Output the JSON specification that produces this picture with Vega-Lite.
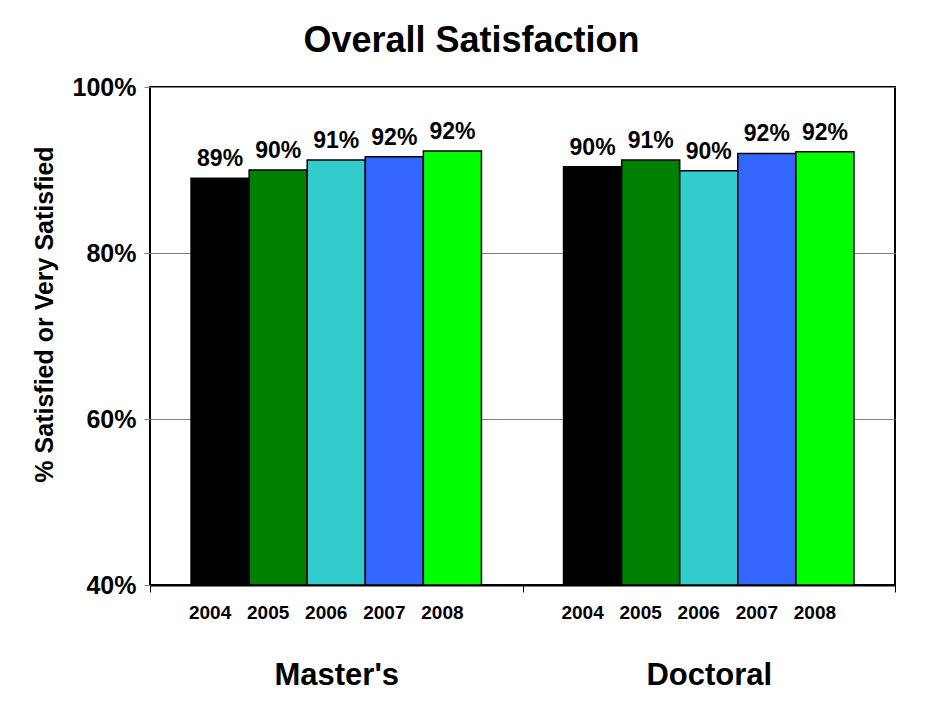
{
  "$schema": "https://vega.github.io/schema/vega-lite/v6.json",
  "autosize": {"type": "none"},
  "padding": {"left": 150, "top": 87, "right": 44, "bottom": 118},
  "width": 745,
  "height": 498,
  "background": "white",
  "config": {
    "font": "Liberation Sans",
    "view": {"stroke": "#000000", "strokeWidth": 2}
  },
  "title": {
    "text": "Overall Satisfaction",
    "fontSize": 36,
    "fontWeight": "bold",
    "color": "#000000",
    "anchor": "middle",
    "dx": -51,
    "offset": 15
  },
  "data": {
    "values": [
      {"group": "Master's", "year": "2004", "value": 0.890},
      {"group": "Master's", "year": "2005", "value": 0.900},
      {"group": "Master's", "year": "2006", "value": 0.912},
      {"group": "Master's", "year": "2007", "value": 0.916},
      {"group": "Master's", "year": "2008", "value": 0.923},
      {"group": "Doctoral", "year": "2004", "value": 0.904},
      {"group": "Doctoral", "year": "2005", "value": 0.912},
      {"group": "Doctoral", "year": "2006", "value": 0.899},
      {"group": "Doctoral", "year": "2007", "value": 0.920},
      {"group": "Doctoral", "year": "2008", "value": 0.922}
    ]
  },
  "encoding": {
    "x": {
      "field": "group",
      "type": "nominal",
      "sort": ["Master's", "Doctoral"],
      "scale": {"paddingInner": 0, "paddingOuter": 0},
      "axis": {
        "title": null,
        "labelAngle": 0,
        "labelFontSize": 31,
        "labelFontWeight": "bold",
        "labelColor": "#000000",
        "labelPadding": 68,
        "tickBand": "extent",
        "tickSize": 7,
        "tickColor": "#000000",
        "domainColor": "#000000",
        "domainWidth": 2
      }
    },
    "xOffset": {
      "field": "year",
      "type": "nominal",
      "scale": {"paddingInner": 0, "paddingOuter": 0.707}
    }
  },
  "layer": [
    {
      "mark": {"type": "bar", "stroke": "#000000", "strokeWidth": 1.5},
      "encoding": {
        "y": {
          "field": "value",
          "type": "quantitative",
          "scale": {"domain": [0.4, 1.0], "zero": false, "nice": false},
          "axis": {
            "title": "% Satisfied or Very Satisfied",
            "titleFontSize": 25,
            "titleFontWeight": "bold",
            "titleColor": "#000000",
            "titlePadding": 15,
            "titleY": 227,
            "values": [0.4, 0.6, 0.8, 1.0],
            "format": ".0%",
            "labelFontSize": 25,
            "labelFontWeight": "bold",
            "labelColor": "#000000",
            "labelPadding": 8,
            "tickSize": 6,
            "tickColor": "#808080",
            "domain": false,
            "grid": true,
            "gridColor": "#808080",
            "gridWidth": 1
          }
        },
        "y2": {"datum": 0.4},
        "color": {
          "field": "year",
          "type": "nominal",
          "scale": {
            "domain": ["2004", "2005", "2006", "2007", "2008"],
            "range": ["#000000", "#008000", "#33CCCC", "#3366FF", "#00FF00"]
          },
          "legend": null
        }
      }
    },
    {
      "mark": {"type": "text", "fontSize": 23, "fontWeight": "bold", "color": "#000000", "baseline": "bottom", "dy": -7},
      "encoding": {
        "y": {"field": "value", "type": "quantitative"},
        "text": {"field": "value", "type": "quantitative", "format": ".0%"}
      }
    },
    {
      "mark": {"type": "text", "fontSize": 19, "fontWeight": "bold", "color": "#000000", "baseline": "middle", "dy": 28, "dx": -10},
      "encoding": {
        "y": {"datum": 0.4, "type": "quantitative"},
        "text": {"field": "year", "type": "nominal"}
      }
    }
  ]
}
